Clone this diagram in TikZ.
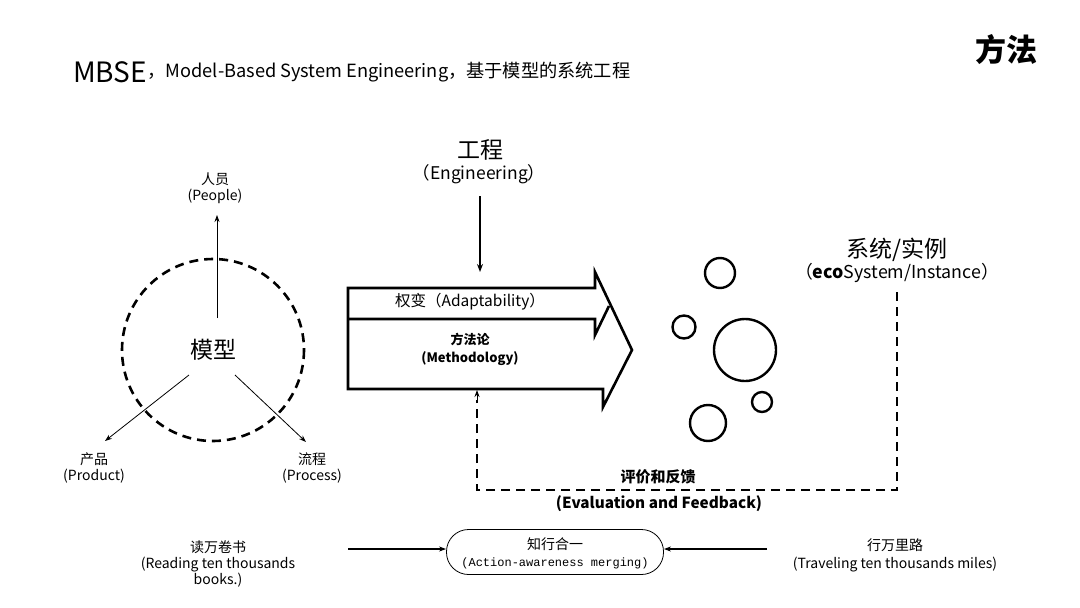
\documentclass[tikz,border=0pt]{standalone}
\usepackage{fontspec}
\setmainfont{Noto Sans CJK SC}
\setmonofont{Liberation Mono}
\usetikzlibrary{arrows.meta,calc}
\tikzset{
  txt/.style={inner sep=0pt, anchor=center, align=center},
  thin arrow/.style={-{Stealth[length=7pt,width=5pt]}, line width=0.8pt},
  thick arrow/.style={-{Stealth[length=8pt,width=6pt]}, line width=1.8pt},
  dashcircle/.style={line width=2.6pt, dash pattern=on 9pt off 6pt},
  fbline/.style={line width=2.4pt, dash pattern=on 9pt off 6pt},
  bubble/.style={draw, circle, line width=2.4pt, inner sep=0pt},
  bigarrow/.style={line width=2.6pt, line join=miter},
}
\newcommand{\fsz}[1]{\fontsize{#1}{1.15\dimexpr #1pt\relax}\selectfont}
\newcommand{\fszl}[2]{\fontsize{#1}{#2}\selectfont}
\begin{document}
\begin{tikzpicture}[x=1pt,y=-1pt]
\useasboundingbox (0,0) rectangle (1080,608);
\fill[white] (0,0) rectangle (1080,608);

% titles
\node[txt, font=\fsz{31}\bfseries] (title) at (1006,50) {方法};
\node[txt, anchor=west, font=\fsz{28}] (mbse) at (73,72) {MBSE};
\node[txt, anchor=west, font=\fsz{18.2}] (sub) at (mbse.east) {，Model-Based System Engineering，基于模型的系统工程};

% model circle
\coordinate (mc) at (213,350);
\draw[dashcircle] (mc) circle (91);
\node[txt, font=\fsz{23}] (model) at (213,350) {模型};
\node[txt, font={\fszl{14}{16.5}}] (people) at (215,188) {人员\\(People)};
\node[txt, font={\fszl{14}{16.5}}] (product) at (94,468) {产品\\(Product)};
\node[txt, font={\fszl{14}{16.5}}] (process) at (312,468) {流程\\(Process)};
\coordinate (pS) at (217,318);
\coordinate (pE) at (217,215);
\coordinate (dS) at (189,375);
\coordinate (dE) at (105,441);
\coordinate (rS) at (235,375);
\coordinate (rE) at (306,442);
\draw[thin arrow] (pS) -- (pE);
\draw[thin arrow] (dS) -- (dE);
\draw[thin arrow] (rS) -- (rE);

% engineering
\node[txt, font=\fsz{23}] (eng) at (480,150) {工程};
\node[txt, font=\fsz{17.5}] (engen) at (479,174) {（Engineering）};
\coordinate (eS) at (480,196);
\coordinate (eE) at (480,272);
\draw[thick arrow] (eS) -- (eE);

% big double arrow
\draw[bigarrow] (348,288) -- (595,288) -- (595,272) -- (632,350) -- (603,407) -- (603,389) -- (348,389) -- cycle;
\draw[bigarrow] (348,319) -- (595,319) -- (595,335) -- (609,306);
\node[txt, font=\fsz{15.5}] (adapt) at (470,302) {权变（Adaptability）};
\node[txt, font=\fsz{13}\bfseries] (meth) at (470,349) {方法论\\[3pt](Methodology)};

% bubbles
\node[bubble, minimum size=30pt] (b1) at (720,273) {};
\node[bubble, minimum size=23pt] (b2) at (684,327) {};
\node[bubble, minimum size=62pt] (b3) at (745,350) {};
\node[bubble, minimum size=20pt] (b4) at (762,402) {};
\node[bubble, minimum size=36pt] (b5) at (708,423) {};

% system
\node[txt, font=\fsz{23}] (sys) at (897,250) {系统/实例};
\node[txt, font=\fsz{17.8}] (sysen) at (897,273) {（\textbf{eco}System/Instance）};

% feedback
\coordinate (fTop) at (897,292);
\coordinate (fR) at (897,490);
\coordinate (fL) at (477,490);
\coordinate (fEnd) at (477,390);
\coordinate (fMid) at (477,400);
\draw[fbline] (fTop) -- (fR) -- (fL) -- (fMid);
\draw[-{Stealth[length=7pt,width=5pt]}, line width=1pt] (fMid) -- (fEnd);
\node[txt, font=\fsz{15}\bfseries] (eval) at (658,477) {评价和反馈};
\node[txt, font=\fsz{15.3}\bfseries] (evalen) at (659,504) {(Evaluation and Feedback)};

% bottom row
\node[txt, font={\fszl{14}{16}}] (read) at (218,564) {读万卷书\\(Reading ten thousands\\books.)};
\node[draw, line width=0.8pt, rounded corners=22pt, minimum width=217pt, minimum height=45pt, inner sep=0pt] (merge) at (555,552) {};
\node[txt, font=\fsz{14}] (zx) at (555,544) {知行合一};
\node[txt, font=\fsz{12}\ttfamily] (zxen) at (555,563) {(Action-awareness merging)};
\node[txt, font={\fszl{14}{18}}] (travel) at (895,555) {行万里路\\(Traveling ten thousands miles)};
\coordinate (lS) at (348,549);
\coordinate (rS2) at (767,549);
\draw[thin arrow, line width=1.2pt] (lS) -- (merge.west |- lS);
\draw[thin arrow, line width=1.2pt] (rS2) -- (merge.east |- rS2);
\end{tikzpicture}
\end{document}
